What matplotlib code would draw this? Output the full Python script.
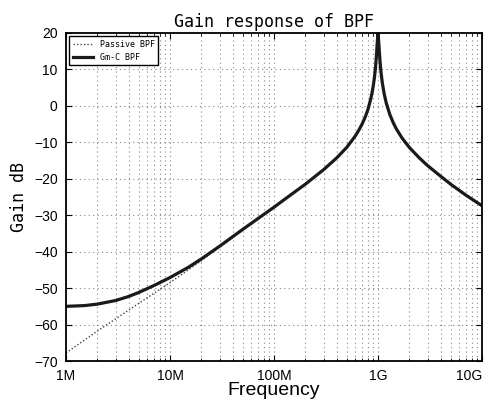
import matplotlib
matplotlib.use("Agg")
import matplotlib.pyplot as plt
from matplotlib.ticker import FixedLocator, LogLocator, NullFormatter

# frequencies in Hz, gains in dB
freq_passive = [1e6, 2e6, 5e6, 1e7, 2e7, 3e7, 5e7, 1e8, 1.5e8, 2e8, 3e8, 4e8, 5e8, 6e8,
                6.5e8, 7e8, 7.5e8, 8e8, 8.5e8, 8.8e8, 9e8, 9.2e8, 9.3e8, 9.4e8, 9.5e8,
                9.6e8, 9.7e8, 9.8e8, 9.9e8, 1e9, 1.01e9, 1.02e9, 1.03e9, 1.05e9, 1.07e9,
                1.1e9, 1.15e9, 1.2e9, 1.3e9, 1.4e9, 1.5e9, 1.7e9, 2e9, 2.5e9, 3e9, 4e9,
                5e9, 7e9, 1e10]
gain_passive = [-67.8, -61.8, -54.2, -48.5, -42.5, -38.8, -34.0, -27.8, -24.1, -21.5, -17.5,
                -14.3, -11.4, -8.4, -6.8, -5.1, -3.2, -1.0, 1.8, 3.8, 5.5, 7.4, 8.5, 9.7,
                11.1, 12.7, 14.5, 16.5, 18.2, 19.6, 18.2, 16.5, 14.7, 11.5, 9.05, 6.3, 3.1,
                0.8, -2.4, -4.6, -6.3, -8.8, -11.4, -14.3, -16.4, -19.3, -21.5, -24.6, -27.6]

freq_gmc = [1e6, 1.5e6, 2e6, 3e6, 4e6, 5e6, 7e6, 1e7, 1.5e7, 2e7, 3e7, 5e7, 1e8, 1.5e8,
            2e8, 3e8, 4e8, 5e8, 6e8, 6.5e8, 7e8, 7.5e8, 8e8, 8.5e8, 8.8e8, 9e8, 9.2e8,
            9.3e8, 9.4e8, 9.5e8, 9.6e8, 9.7e8, 9.8e8, 9.9e8, 1e9, 1.01e9, 1.02e9, 1.03e9,
            1.05e9, 1.07e9, 1.1e9, 1.15e9, 1.2e9, 1.3e9, 1.4e9, 1.5e9, 1.7e9, 2e9, 2.5e9,
            3e9, 4e9, 5e9, 7e9, 1e10]
gain_gmc = [-55.0, -54.8, -54.4, -53.4, -52.3, -51.2, -49.3, -47.1, -44.3, -42.0, -38.5,
            -33.9, -27.8, -24.1, -21.5, -17.5, -14.3, -11.4, -8.4, -6.8, -5.1, -3.2, -1.0,
            1.8, 3.8, 5.5, 7.4, 8.5, 9.7, 11.1, 12.8, 14.6, 16.7, 18.5, 20.0, 18.5, 16.7,
            14.8, 11.6, 9.1, 6.3, 3.1, 0.8, -2.4, -4.6, -6.3, -8.8, -11.4, -14.3, -16.4,
            -19.3, -21.5, -24.5, -27.4]

xticks = [1e6, 1e7, 1e8, 1e9, 1e10]
xticklabels = ["1M", "10M", "100M", "1G", "10G"]
yticks = [-70, -60, -50, -40, -30, -20, -10, 0, 10, 20]

fig = plt.figure(figsize=(4.91, 4.07), dpi=100)
ax = fig.add_axes([0.1344, 0.113, 0.8473, 0.806])

ax.plot(freq_passive, gain_passive, color="#444444", lw=1.0, ls=(0, (1, 1.5)), label="Passive BPF")
ax.plot(freq_gmc, gain_gmc, color="#1a1a1a", lw=2.3, label="Gm-C BPF")

ax.set_xscale("log")
ax.set_xlim(1e6, 1e10)
ax.set_ylim(-70, 20)
ax.xaxis.set_major_locator(FixedLocator(xticks))
ax.set_xticklabels(xticklabels)
ax.xaxis.set_minor_locator(LogLocator(base=10, subs=range(2, 10)))
ax.xaxis.set_minor_formatter(NullFormatter())
ax.set_yticks(yticks)

ax.grid(True, which="major", color="#888888", ls=(0, (1, 3)), lw=0.8)
ax.grid(True, which="minor", axis="x", color="#888888", ls=(0, (1, 3)), lw=0.8)

ax.tick_params(which="both", direction="in", top=True, right=True)
ax.tick_params(which="major", length=4, pad=6)
ax.tick_params(which="minor", length=2)
for lbl in ax.get_xticklabels() + ax.get_yticklabels():
    lbl.set_family(["Liberation Sans Narrow", "Liberation Sans"])
    lbl.set_fontsize(10)
ax.get_xticklabels()[-1].set_horizontalalignment("right")
for s in ax.spines.values():
    s.set_linewidth(1.3)

ax.set_title("Gain response of BPF", family="DejaVu Sans Mono", fontsize=12, pad=4)
ax.set_ylabel("Gain dB", family="DejaVu Sans Mono", fontsize=12, labelpad=4)
ax.set_xlabel("Frequency", family="Liberation Sans", fontsize=14, labelpad=-1)

leg = ax.legend(loc="upper left", prop={"family": "DejaVu Sans Mono", "size": 6},
                fancybox=False, framealpha=1, edgecolor="black", handlelength=2.5,
                borderaxespad=0.4)
leg.get_frame().set_linewidth(1.0)

fig.savefig("out.png", dpi=100)
